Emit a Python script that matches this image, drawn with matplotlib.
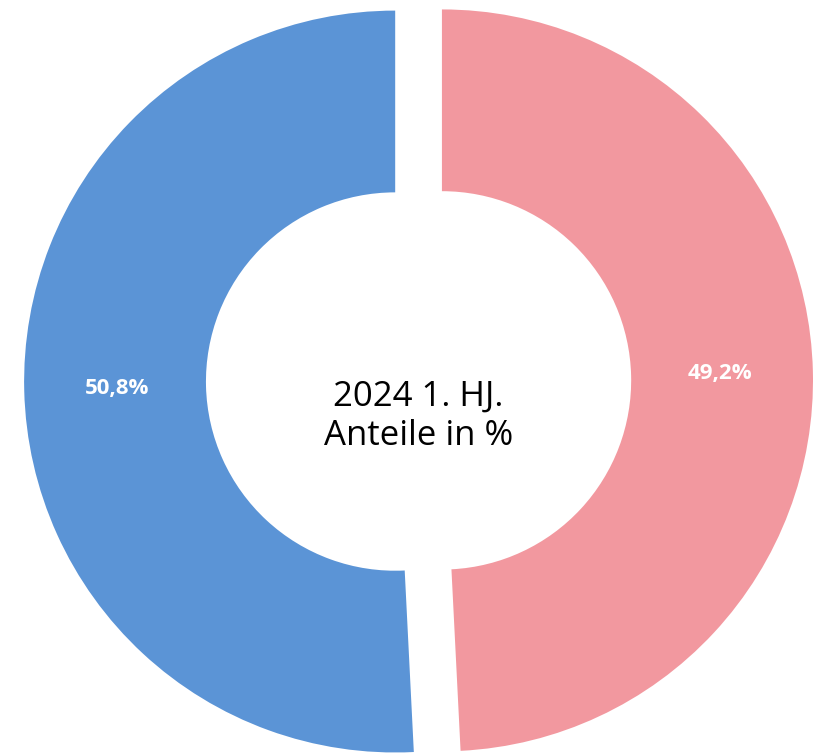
import matplotlib.pyplot as plt

# Daten
kategorien = ['Teil B', 'Teil A']
anteile = [49.2, 50.8]
farben = ['#F2989F', '#5B94D6']
titel = '2024 1. HJ.\nAnteile in %'

fig = plt.figure(figsize=(8.13, 7.53), dpi=100)
ax = fig.add_axes([0, 0, 1, 1])

wedges, texts, autotexts = ax.pie(
    anteile, colors=farben, startangle=90, counterclock=False,
    explode=[0.063, 0.063], radius=1.0,
    wedgeprops=dict(width=0.49, linewidth=0),
    autopct=lambda p: f'{p:.1f}%'.replace('.', ','), pctdistance=0.75,
    textprops=dict(color='white', fontsize=16, fontweight='bold', family='Open Sans'))

# Mittlerer Text
ax.text(0, -0.095, titel, ha='center', va='center', fontsize=25,
        family='Open Sans', linespacing=1.2, color='black')

ax.set_aspect('auto')
ax.set_xlim(-1.128, 1.063)
ax.set_ylim(-1.003, 1.027)
ax.axis('off')

plt.savefig('out.png', dpi=100)
